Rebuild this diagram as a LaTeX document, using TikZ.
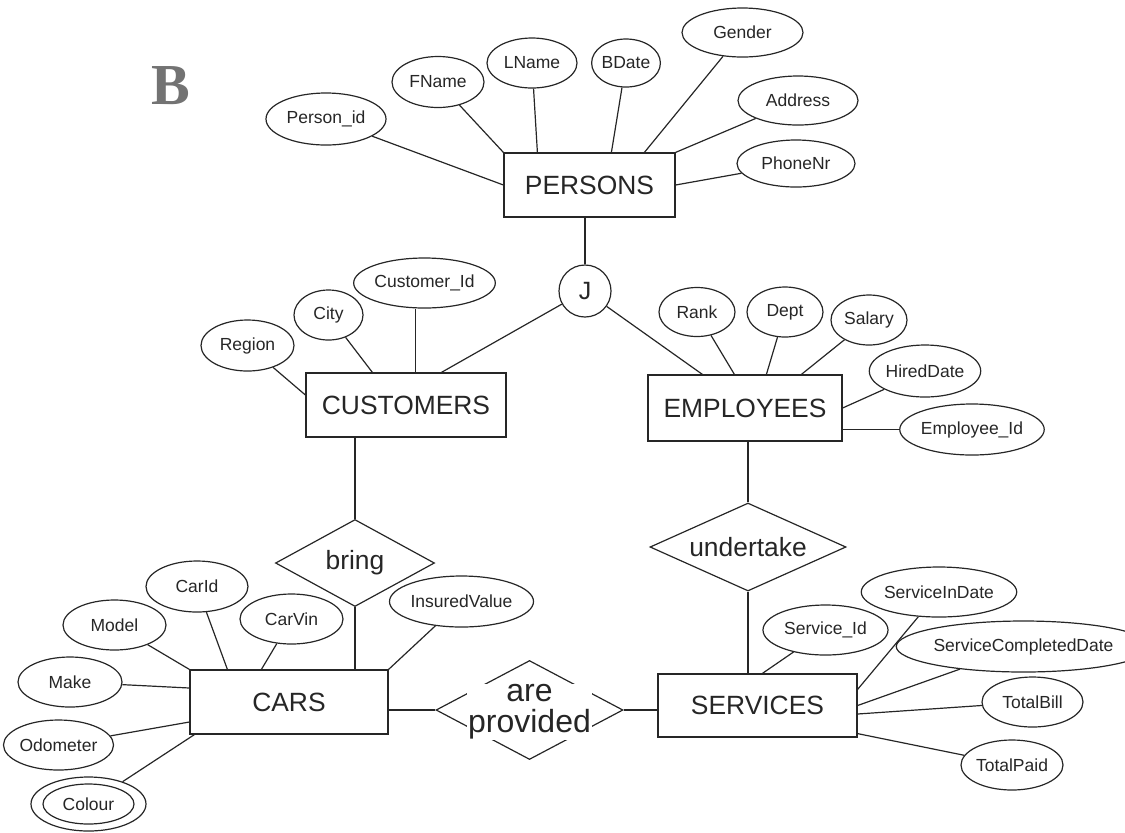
\documentclass[tikz,border=0pt]{standalone}
\usepackage{fontspec}
\setmainfont{Liberation Sans}
\newfontfamily\initialfont{Liberation Serif}
\usetikzlibrary{shapes.geometric}

\begin{document}
\begin{tikzpicture}[x=0.5pt,y=-0.5pt,line width=0.6pt,color=black!85]
    \tikzstyle{entity}=[draw,rectangle,inner sep=0pt,font=\fontsize{13.2}{15}\selectfont]
    \tikzstyle{attr}=[draw,ellipse,inner sep=0pt,font=\fontsize{8.75}{10}\selectfont]
    \tikzstyle{rel}=[draw,diamond,inner sep=0pt,font=\fontsize{13.2}{15}\selectfont]
    \tikzstyle{junction}=[draw,circle,inner sep=0pt,minimum size=26pt,font=\fontsize{12.5}{14}\selectfont]

    \useasboundingbox (0,0) rectangle (1125,832);

    % Letter in the corner
    \node (letter) at (171,86) {\initialfont\bfseries\fontsize{29}{29}\selectfont\color{black!55}B};

    % PERSONS and its attributes
    \node[entity, minimum width=85.5pt, minimum height=32pt] (persons) at (589.5,185) {PERSONS};
    \node[attr, minimum width=60pt, minimum height=26pt] (pid) at (326,119) {Person\_id};
    \node[attr, minimum width=46pt, minimum height=25.5pt] (fname) at (438,82) {FName};
    \node[attr, minimum width=45pt, minimum height=25pt] (lname) at (532,63) {LName};
    \node[attr, minimum width=34pt, minimum height=24pt] (bdate) at (626,63) {BDate};
    \node[attr, minimum width=60.5pt, minimum height=24.5pt] (gender) at (742.5,32.5) {Gender};
    \node[attr, minimum width=60pt, minimum height=24.5pt] (address) at (798,100.5) {Address};
    \node[attr, minimum width=59pt, minimum height=23.5pt] (phone) at (796,163.5) {PhoneNr};

    \draw (pid) -- (persons.west);
    \draw (fname) -- (persons.north west);
    \draw (lname) -- ([xshift=17pt]persons.north west);
    \draw (bdate) -- ([xshift=54pt]persons.north west);
    \draw (gender) -- ([xshift=70.5pt]persons.north west);
    \draw (address) -- (persons.north east);
    \draw (phone) -- (persons.east);

    % Junction below PERSONS
    \node[junction] (j) at (585,291) {J};
    \draw (j) -- (j |- persons.south);

    % CUSTOMERS
    \node[entity, minimum width=100pt, minimum height=32pt] (customers) at (406,405) {CUSTOMERS};
    \node[attr, minimum width=46.5pt, minimum height=25.5pt] (region) at (247.5,345.5) {Region};
    \node[attr, minimum width=34.5pt, minimum height=25pt] (city) at (328.5,315) {City};
    \node[attr, minimum width=60.5pt, minimum height=25pt] (custid) at (424.5,283) {Customer\_Id};

    \draw (region) -- ([yshift=5pt]customers.west);
    \draw (city) -- ([xshift=33.5pt]customers.north west);
    \draw ([xshift=55pt]customers.north west) -- ([xshift=55pt]customers.north west |- custid.south);
    \draw (j) -- ([xshift=68pt]customers.north west);

    % EMPLOYEES
    \node[entity, minimum width=97pt, minimum height=33pt] (employees) at (745,408) {EMPLOYEES};
    \node[attr, minimum width=38pt, minimum height=24.5pt] (rank) at (697,312) {Rank};
    \node[attr, minimum width=38pt, minimum height=25pt] (dept) at (785,312) {Dept};
    \node[attr, minimum width=38pt, minimum height=25pt] (salary) at (869,320) {Salary};
    \node[attr, minimum width=50pt, minimum height=26pt] (hired) at (925,371) {HiredDate};
    \node[attr, minimum width=62pt, minimum height=25.5pt] (empid) at (972,429.5) {Employee\_Id};

    \draw (j) -- ([xshift=27.5pt]employees.north west);
    \draw (rank) -- ([xshift=43.5pt]employees.north west);
    \draw (dept) -- ([xshift=59.5pt]employees.north west);
    \draw (salary) -- ([xshift=77pt]employees.north west);
    \draw (hired) -- (employees.east);
    \draw (empid) -- (empid -| employees.east);

    % Relationships
    \node[rel, shape aspect=2.2, minimum width=98pt, minimum height=44pt] (undertake) at (748,547) {undertake};
    \node[rel, shape aspect=1.8, minimum width=79.5pt, minimum height=43.5pt] (bring) at (355,563) {bring};
    \draw (undertake) -- (undertake |- employees.south);
    \draw (bring) -- (bring |- customers.south);

    % CARS
    \node[entity, minimum width=99pt, minimum height=32pt] (cars) at (289,702) {CARS};
    \node[attr, minimum width=51pt, minimum height=25.5pt] (carid) at (197,586.5) {CarId};
    \node[attr, minimum width=51.5pt, minimum height=25pt] (model) at (114.5,625) {Model};
    \node[attr, minimum width=51.5pt, minimum height=25pt] (carvin) at (291.5,619) {CarVin};
    \node[attr, minimum width=63.5pt, minimum height=25.5pt] (insured) at (461.5,601.5) {InsuredValue};
    \node[attr, minimum width=52pt, minimum height=25pt] (make) at (70,682) {Make};
    \node[attr, minimum width=51.5pt, minimum height=25pt] (odometer) at (58.5,745) {Odometer};
    % multivalued: double ellipse
    \node[attr, minimum width=45.5pt, minimum height=20pt] (colour) at (88.5,804) {Colour};
    \node[attr, minimum width=57.5pt, minimum height=27pt] (colourrim) at (colour) {};

    \draw (bring) -- (bring |- cars.north);
    \draw (model) -- (cars.north west);
    \draw (carid) -- ([xshift=19pt]cars.north west);
    \draw (carvin) -- ([xshift=36pt]cars.north west);
    \draw (insured) -- (cars.north east);
    \draw (make) -- ([yshift=7pt]cars.west);
    \draw (odometer) -- ([yshift=-10pt]cars.west);
    \draw (colourrim) -- ([xshift=2.5pt]cars.south west);

    % are provided
    \node[rel, shape aspect=1.9, minimum width=93.5pt, minimum height=49.5pt] (provided) at (529.5,710) {};
    \node[fill=white, inner sep=0.5pt, align=center, font=\fontsize{16}{15.5}\selectfont] (providedtext) at (529.5,712) {are\\provided};

    % SERVICES
    \node[entity, minimum width=99.5pt, minimum height=31.5pt] (services) at (757.5,705.5) {SERVICES};
    \node[attr, minimum width=62.5pt, minimum height=25pt] (servid) at (825.5,630) {Service\_Id};
    \node[attr, minimum width=66pt, minimum height=25pt] (servin) at (939,592) {ServiceInDate};
    \node[attr, minimum width=101.5pt, minimum height=25.5pt] (servcomp) at (1023.5,646.5) {ServiceCompletedDate};
    \node[attr, minimum width=50.5pt, minimum height=25pt] (totalbill) at (1032.5,702) {TotalBill};
    \node[attr, minimum width=51pt, minimum height=25pt] (totalpaid) at (1012,765) {TotalPaid};

    \draw (undertake) -- (undertake |- services.north);
    \draw (provided) -- (provided -| cars.east);
    \draw (provided) -- (provided -| services.west);
    \draw (servid) -- ([xshift=52.5pt]services.north west);
    \draw (servin) -- ([yshift=-8pt]services.north east);
    \draw (servcomp) -- (services.east);
    \draw (totalbill) -- ([yshift=-4.25pt]services.east);
    \draw (totalpaid) -- ([yshift=2pt]services.south east);
\end{tikzpicture}
\end{document}
